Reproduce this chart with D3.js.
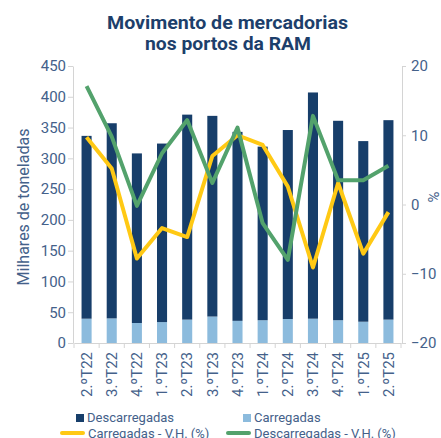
<!DOCTYPE html>
<html>
<head>
<meta charset="utf-8">
<script src="https://cdn.jsdelivr.net/npm/d3@7"></script>
<style>
  body { margin: 0; background: #fff; }
  svg text { font-family: Roboto, "Liberation Sans", sans-serif; }
</style>
</head>
<body>
<svg id="chart" width="441" height="438"></svg>
<script>
const quarters = ["2.ºT22", "3.ºT22", "4.ºT22", "1.ºT23", "2.ºT23", "3.ºT23", "4.ºT23",
                  "1.ºT24", "2.ºT24", "3.ºT24", "4.ºT24", "1.ºT25", "2.ºT25"];
const carregadas = [39.5, 40, 32.5, 34, 38, 43, 36, 37, 39, 39.5, 37, 34.6, 38];
const descarregadas = [297, 317, 275.5, 290, 333, 326, 307, 282, 307, 367.5, 324, 293.4, 324];
const carregadasVH = [9.7, 5.2, -7.8, -3.4, -4.7, 7.0, 10.0, 8.6, 2.6, -9.1, 3.1, -7.1, -1.1];
const descarregadasVH = [17.1, 9.8, -0.2, 7.4, 12.2, 3.1, 11.1, -2.7, -8.0, 12.8, 3.5, 3.5, 5.6];
const leftTicks = [0, 50, 100, 150, 200, 250, 300, 350, 400, 450];
const rightTicks = [-20, -10, 0, 10, 20];

const textColor = "#44618a";
const axisColor = "#d4d4d4";
const darkBlue = "#173e6a";
const lightBlue = "#8cbbdd";
const yellow = "#ffc914";
const green = "#53a26c";

const svg = d3.select("#chart");

// title (stretched a bit, the original font is wider)
svg.append("text")
    .attr("x", 227.5).attr("y", 29)
    .attr("text-anchor", "middle")
    .attr("font-size", 17.5).attr("font-weight", "bold")
    .attr("fill", "#1d3f6b")
    .attr("textLength", 241).attr("lengthAdjust", "spacingAndGlyphs")
    .text("Movimento de mercadorias");
svg.append("text")
    .attr("x", 228).attr("y", 50)
    .attr("text-anchor", "middle")
    .attr("font-size", 17.5).attr("font-weight", "bold")
    .attr("fill", "#1d3f6b")
    .attr("textLength", 166).attr("lengthAdjust", "spacingAndGlyphs")
    .text("nos portos da RAM");

const x = d3.scaleBand()
    .domain(quarters)
    .range([74, 401])
    .paddingInner(0.6)
    .paddingOuter(0.3);

const y = d3.scaleLinear().domain([0, 450]).range([343, 66]);
const y2 = d3.scaleLinear().domain([-20, 20]).range([343, 66]);

// bars
const g = svg.append("g");
quarters.forEach((q, i) => {
    g.append("rect")
        .attr("x", x(q)).attr("width", x.bandwidth())
        .attr("y", y(carregadas[i]))
        .attr("height", y(0) - y(carregadas[i]))
        .attr("fill", lightBlue);
    g.append("rect")
        .attr("x", x(q)).attr("width", x.bandwidth())
        .attr("y", y(carregadas[i] + descarregadas[i]))
        .attr("height", y(carregadas[i]) - y(carregadas[i] + descarregadas[i]))
        .attr("fill", darkBlue);
});

// lines
const line = d3.line()
    .x((d, i) => x(quarters[i]) + x.bandwidth() / 2)
    .y(d => y2(d));

svg.append("path")
    .attr("d", line(carregadasVH))
    .attr("fill", "none").attr("stroke", yellow)
    .attr("stroke-width", 4).attr("stroke-linejoin", "round");
svg.append("path")
    .attr("d", line(descarregadasVH))
    .attr("fill", "none").attr("stroke", green)
    .attr("stroke-width", 4).attr("stroke-linejoin", "round");

// axes
const styleAxis = sel => {
    sel.selectAll("path, line").attr("stroke", axisColor);
    sel.selectAll("text").attr("fill", textColor).attr("font-size", 15)
        .attr("font-family", "Roboto, 'Liberation Sans', sans-serif");
};

svg.append("g")
    .attr("transform", "translate(73,0)")
    .call(d3.axisLeft(y).tickValues(leftTicks).tickSize(5).tickSizeOuter(0).tickPadding(2))
    .call(styleAxis);

svg.append("g")
    .attr("transform", "translate(402,0)")
    .call(d3.axisRight(y2).tickValues(rightTicks).tickSize(4).tickSizeOuter(0).tickPadding(5))
    .call(styleAxis);

const xAxis = svg.append("g")
    .attr("transform", "translate(0,343)")
    .call(d3.axisBottom(x).tickSize(0).tickSizeOuter(0))
    .call(styleAxis);
xAxis.selectAll("text")
    .attr("transform", "rotate(-90)")
    .attr("text-anchor", "end")
    .attr("x", -9).attr("y", 0).attr("dy", "0.35em");
// band boundary ticks
d3.range(quarters.length + 1).forEach(i => {
    xAxis.append("line")
        .attr("x1", 74 + i * (327 / quarters.length))
        .attr("x2", 74 + i * (327 / quarters.length))
        .attr("y1", 0).attr("y2", 5)
        .attr("stroke", axisColor);
});

// axis titles
svg.append("text")
    .attr("transform", "translate(29,207) rotate(-90)")
    .attr("text-anchor", "middle")
    .attr("font-size", 16).attr("fill", textColor)
    .text("Milhares de toneladas");
svg.append("text")
    .attr("transform", "translate(428,197) rotate(90)")
    .attr("text-anchor", "middle")
    .attr("font-size", 15).attr("fill", textColor)
    .text("%");

// legend
const legend = svg.append("g").attr("font-size", 13).attr("fill", textColor);
const legendItems = [
    { name: "Descarregadas", type: "rect", color: darkBlue, x: 76, y: 417 },
    { name: "Carregadas", type: "rect", color: lightBlue, x: 243, y: 417 },
    { name: "Carregadas - V.H. (%)", type: "line", color: yellow, x: 62, y: 433 },
    { name: "Descarregadas - V.H. (%)", type: "line", color: green, x: 228, y: 433 }
];
legendItems.forEach(d => {
    if (d.type === "rect") {
        legend.append("rect")
            .attr("x", d.x).attr("y", d.y - 3).attr("width", 8).attr("height", 8)
            .attr("fill", d.color);
        legend.append("text")
            .attr("x", d.x + 11).attr("y", d.y).attr("dy", "0.35em")
            .attr("fill", textColor).text(d.name);
    } else {
        legend.append("line")
            .attr("x1", d.x).attr("x2", d.x + 21)
            .attr("y1", d.y).attr("y2", d.y)
            .attr("stroke", d.color).attr("stroke-width", 4)
            .attr("stroke-linecap", "round");
        legend.append("text")
            .attr("x", d.x + 26).attr("y", d.y).attr("dy", "0.35em")
            .attr("fill", textColor).text(d.name);
    }
});
</script>
</body>
</html>
